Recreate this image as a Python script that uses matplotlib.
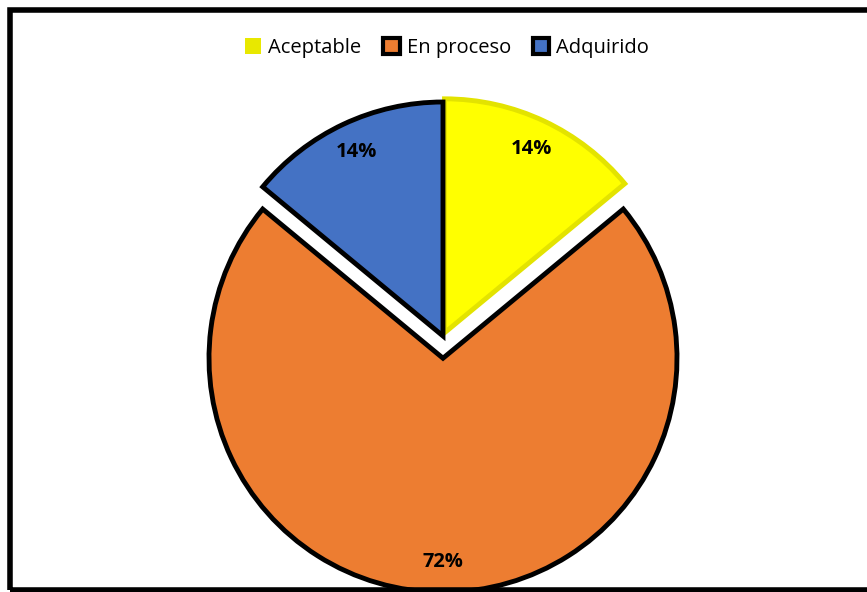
import matplotlib
matplotlib.use('Agg')
import matplotlib.pyplot as plt
from matplotlib.patches import Patch, Rectangle

categories = ['Aceptable', 'En proceso', 'Adquirido']
values = [14, 72, 14]
colors = ['#FFFF00', '#ED7D31', '#4472C4']
edges = ['#E3E300', 'black', 'black']
explode = [0.015, 0.095, 0.0]

plt.rcParams['font.family'] = ['Open Sans', 'DejaVu Sans']

R = 234
fig = plt.figure(figsize=(8.67, 5.92), dpi=100)
ax = fig.add_axes([0, 0, 1, 1])

# pie explode is in data units here, so scale by radius
wedges, texts, autotexts = ax.pie(values, colors=colors,
                                  explode=[e * R for e in explode],
                                  startangle=90, counterclock=False,
                                  center=(443, 256), radius=R,
                                  autopct='%d%%', pctdistance=0.87,
                                  textprops={'fontsize': 14.5, 'fontweight': 'bold'})
for w, ec in zip(wedges, edges):
    w.set_edgecolor(ec)
    w.set_linewidth(3.5)
    w.set_joinstyle('miter')

ax.set_xlim(0, 867)
ax.set_ylim(0, 592)
ax.set_aspect('equal')
ax.axis('off')

handles = []
for c, ec in zip(colors, edges):
    if ec == 'black':
        handles.append(Patch(facecolor=c, edgecolor='black', linewidth=3))
    else:
        handles.append(Patch(facecolor='#E8E800', edgecolor='none'))
fig.legend(handles, categories, loc='center', bbox_to_anchor=(447 / 867, 1 - 48 / 592),
           ncol=3, frameon=False, fontsize=14.5, handlelength=0.8, handleheight=0.8,
           handletextpad=0.35, columnspacing=1.1)

# outer frame
fig.patches.append(Rectangle((9.5 / 867, 2.5 / 592), 1.0, 1 - 12 / 592,
                             transform=fig.transFigure, fill=False,
                             edgecolor='black', linewidth=4, zorder=10))

fig.savefig('out.png', format='png')
